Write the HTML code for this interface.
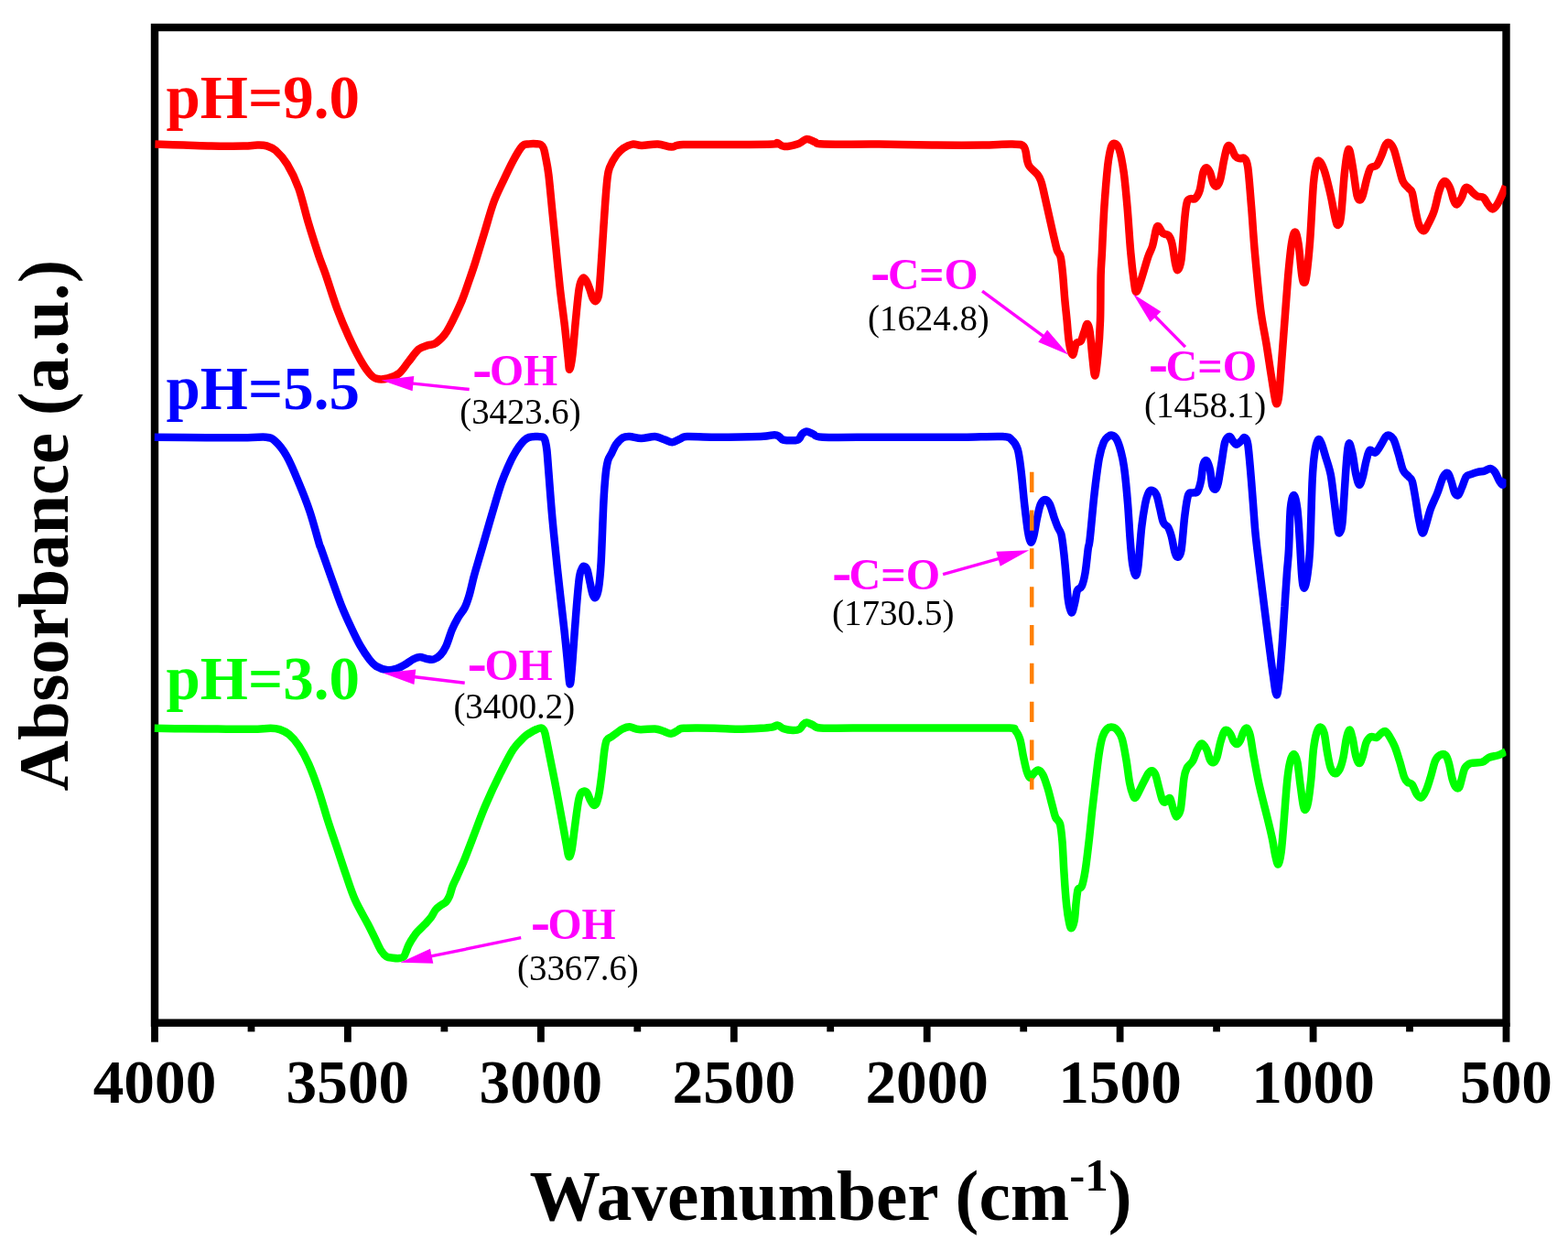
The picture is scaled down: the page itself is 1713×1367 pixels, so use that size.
<!DOCTYPE html>
<html lang="en"><head><meta charset="utf-8"><title>FTIR spectra</title>
<style>
html,body{margin:0;padding:0;background:#fff;}
body{width:1713px;height:1367px;overflow:hidden;}
svg{display:block;font-family:"Liberation Serif",serif;}
.b{font-weight:bold;}
.cv{fill:none;stroke-width:8.5;stroke-linejoin:round;stroke-linecap:butt;}
.m{fill:#ff00ff;font-weight:bold;font-size:48px;}
.hy{font-family:"DejaVu Serif",serif;font-size:42px;}
.n{fill:#000;font-size:40.7px;}
.ar{stroke:#ff00ff;fill:none;}
.ah{fill:#ff00ff;stroke:none;}
</style></head><body>
<svg width="1713" height="1367" viewBox="0 0 1713 1367">
<rect width="1713" height="1367" fill="#fff"/>
<g stroke="#000" stroke-width="8.4" fill="none">
<rect x="169.0" y="30.0" width="1476.5" height="1087.7"/>
<line stroke-width="7.8" x1="169.0" y1="1117.7" x2="169.0" y2="1138.7"/><line stroke-width="7.8" x1="274.5" y1="1117.7" x2="274.5" y2="1127.4"/><line stroke-width="7.8" x1="379.9" y1="1117.7" x2="379.9" y2="1138.7"/><line stroke-width="7.8" x1="485.4" y1="1117.7" x2="485.4" y2="1127.4"/><line stroke-width="7.8" x1="590.9" y1="1117.7" x2="590.9" y2="1138.7"/><line stroke-width="7.8" x1="696.3" y1="1117.7" x2="696.3" y2="1127.4"/><line stroke-width="7.8" x1="801.8" y1="1117.7" x2="801.8" y2="1138.7"/><line stroke-width="7.8" x1="907.2" y1="1117.7" x2="907.2" y2="1127.4"/><line stroke-width="7.8" x1="1012.7" y1="1117.7" x2="1012.7" y2="1138.7"/><line stroke-width="7.8" x1="1118.2" y1="1117.7" x2="1118.2" y2="1127.4"/><line stroke-width="7.8" x1="1223.6" y1="1117.7" x2="1223.6" y2="1138.7"/><line stroke-width="7.8" x1="1329.1" y1="1117.7" x2="1329.1" y2="1127.4"/><line stroke-width="7.8" x1="1434.6" y1="1117.7" x2="1434.6" y2="1138.7"/><line stroke-width="7.8" x1="1540.0" y1="1117.7" x2="1540.0" y2="1127.4"/><line stroke-width="7.8" x1="1645.5" y1="1117.7" x2="1645.5" y2="1138.7"/>
</g>
<clipPath id="cp"><rect x="168" y="30" width="1477.5" height="1088"/></clipPath>
<g id="curves" clip-path="url(#cp)">
<path class="cv" stroke="#00ff00" d="M168.8 795.8C174.0 795.9 188.7 796.2 200.2 796.3C211.7 796.4 225.3 796.5 237.9 796.6C250.5 796.7 265.9 796.9 275.5 796.8C285.1 796.7 290.6 795.8 295.6 795.8C300.6 795.8 302.2 796.0 305.6 797.1C309.0 798.2 312.3 799.6 315.8 802.6C319.3 805.6 323.0 809.7 326.6 815.1C330.2 820.5 333.9 827.2 337.4 835.2C340.9 843.2 344.4 852.8 347.8 862.8C351.2 872.8 354.5 885.0 357.8 895.5C361.1 906.0 364.5 915.6 367.9 925.6C371.2 935.6 374.6 946.1 377.9 955.7C381.2 965.3 383.9 974.3 387.9 983.3C391.9 992.3 398.3 1002.9 401.9 1009.8C405.5 1016.7 406.9 1019.9 409.3 1024.7C411.7 1029.5 414.1 1035.3 416.3 1038.7C418.5 1042.1 420.3 1044.0 422.4 1045.3C424.5 1046.6 426.7 1046.4 429.0 1046.7C431.3 1047.0 434.4 1047.3 436.4 1047.1C438.4 1046.9 439.8 1046.7 441.1 1045.3C442.4 1043.9 443.2 1040.9 444.1 1038.7C445.0 1036.5 445.4 1034.7 446.7 1032.2C448.0 1029.7 450.2 1026.1 451.8 1023.8C453.4 1021.5 453.9 1020.5 456.0 1018.2C458.1 1015.9 461.9 1012.4 464.4 1009.8C466.9 1007.1 469.1 1004.9 471.0 1002.3C472.9 999.6 474.3 996.1 476.1 993.9C477.9 991.7 479.8 990.6 481.7 989.2C483.6 987.8 485.7 987.2 487.3 985.5C488.9 983.8 489.9 981.8 491.1 979.0C492.3 976.2 493.0 972.1 494.3 968.7C495.6 965.3 497.6 961.5 499.0 958.4C500.4 955.3 501.2 953.4 502.7 950.0C504.2 946.6 505.3 944.7 507.9 938.1C510.5 931.5 514.8 920.2 518.5 910.5C522.2 900.8 525.7 891.0 530.4 880.0C535.1 869.0 541.7 854.9 546.8 844.7C551.9 834.5 556.5 825.1 560.8 818.6C565.1 812.1 569.6 808.4 572.5 805.5C575.4 802.6 575.6 802.9 577.9 801.5C580.2 800.1 583.8 798.0 586.1 797.0C588.4 796.0 590.1 795.2 591.6 795.6C593.1 796.0 593.9 797.0 594.9 799.5C595.9 802.0 596.3 805.4 597.4 810.7C598.5 816.0 599.8 822.7 601.5 831.2C603.2 839.7 605.6 851.3 607.6 861.9C609.6 872.5 611.8 884.5 613.7 894.7C615.6 905.0 617.6 916.5 618.9 923.4C620.2 930.3 620.5 935.3 621.5 936.1C622.5 936.9 623.7 933.2 624.7 928.1C625.7 923.0 626.6 913.9 627.7 905.5C628.8 897.1 630.5 884.2 631.5 877.9C632.5 871.6 633.0 870.1 634.0 867.9C635.0 865.7 636.5 864.8 637.7 864.6C639.0 864.4 640.3 865.0 641.5 866.6C642.7 868.2 643.7 871.9 644.8 874.1C645.9 876.3 647.2 879.0 648.3 879.6C649.4 880.2 650.4 880.3 651.5 877.9C652.6 875.5 653.8 871.1 654.8 865.3C655.8 859.4 656.9 850.3 657.8 842.8C658.7 835.3 659.5 825.9 660.3 820.2C661.1 814.6 661.5 811.4 662.8 808.9C664.1 806.4 666.0 806.5 667.9 805.1C669.8 803.7 672.0 802.1 674.1 800.6C676.2 799.1 678.1 797.3 680.4 796.3C682.7 795.2 685.0 794.2 687.9 794.3C690.8 794.4 693.4 796.7 698.0 797.1C702.6 797.5 711.1 796.3 715.5 796.6C719.9 796.9 721.4 797.9 724.3 798.8C727.2 799.7 730.4 801.9 733.1 801.8C735.8 801.7 738.3 799.1 740.6 798.1C742.9 797.1 740.2 796.2 746.9 795.8C753.6 795.4 771.0 795.6 780.8 795.8C790.6 796.0 797.5 796.8 805.9 796.8C814.3 796.8 824.7 796.2 831.0 795.8C837.3 795.4 840.5 795.1 843.6 794.6C846.7 794.1 847.7 792.3 849.8 792.6C851.9 792.9 853.4 795.4 856.1 796.3C858.8 797.2 863.2 798.0 866.1 798.1C869.0 798.2 871.8 797.7 873.7 796.6C875.6 795.5 876.1 793.0 877.4 791.8C878.6 790.6 879.5 789.5 881.2 789.5C882.9 789.5 885.0 791.0 887.5 792.0C890.0 793.0 889.0 795.0 896.3 795.6C903.6 796.2 913.0 795.6 931.4 795.6C949.8 795.6 985.2 795.6 1006.7 795.6C1028.2 795.6 1044.2 795.6 1060.2 795.6C1076.2 795.6 1094.8 795.2 1102.9 795.6C1111.1 796.0 1107.2 796.1 1109.1 798.1C1111.0 800.1 1112.7 802.9 1114.2 807.6C1115.7 812.3 1116.7 820.5 1117.9 826.4C1119.2 832.3 1120.5 838.9 1121.7 842.8C1122.9 846.7 1123.8 849.4 1125.0 849.8C1126.2 850.2 1127.7 846.7 1129.2 845.3C1130.7 843.9 1132.5 841.3 1134.2 841.5C1135.9 841.7 1137.6 843.4 1139.3 846.5C1141.0 849.6 1142.6 854.9 1144.3 860.3C1146.0 865.7 1147.8 873.6 1149.3 879.1C1150.8 884.6 1151.6 889.4 1153.1 893.0C1154.6 896.6 1156.8 895.9 1158.1 900.5C1159.3 905.1 1159.8 911.4 1160.6 920.6C1161.3 929.8 1161.8 944.4 1162.6 955.7C1163.3 967.0 1164.2 979.5 1165.1 988.3C1166.0 997.1 1167.2 1004.1 1168.1 1008.4C1169.0 1012.7 1169.7 1014.6 1170.6 1014.2C1171.5 1013.8 1172.8 1010.6 1173.7 1005.9C1174.6 1001.2 1175.0 991.4 1175.7 985.8C1176.4 980.1 1176.7 974.9 1177.7 972.0C1178.7 969.1 1180.6 971.8 1181.9 968.3C1183.2 964.8 1184.4 958.7 1185.7 950.7C1187.0 942.8 1188.2 931.5 1189.5 920.6C1190.8 909.7 1192.0 896.7 1193.2 885.4C1194.5 874.1 1195.7 863.2 1197.0 852.8C1198.3 842.3 1199.5 830.7 1200.8 822.7C1202.0 814.8 1203.0 809.5 1204.5 805.1C1206.0 800.7 1207.7 798.0 1209.5 796.3C1211.3 794.5 1213.4 794.3 1215.3 794.6C1217.2 794.9 1219.0 795.9 1220.8 798.1C1222.6 800.3 1224.3 802.2 1225.9 807.6C1227.5 813.0 1229.0 822.2 1230.4 830.2C1231.8 838.2 1232.8 848.8 1234.1 855.3C1235.3 861.8 1236.9 866.4 1237.9 869.1C1239.0 871.8 1239.3 872.4 1240.4 871.6C1241.5 870.8 1243.2 867.0 1244.7 864.1C1246.2 861.2 1248.0 857.2 1249.7 854.0C1251.4 850.8 1253.2 846.8 1254.7 844.8C1256.2 842.8 1257.2 841.9 1258.5 842.2C1259.8 842.5 1261.0 843.5 1262.3 846.5C1263.5 849.5 1264.8 855.7 1266.0 860.3C1267.2 864.9 1268.6 871.4 1269.8 874.1C1271.0 876.8 1272.0 876.8 1273.1 876.6C1274.1 876.4 1275.2 873.5 1276.1 872.9C1277.0 872.3 1277.8 871.4 1278.6 872.9C1279.4 874.4 1280.2 878.8 1281.1 881.7C1282.0 884.6 1283.3 888.7 1284.1 890.4C1284.9 892.1 1285.0 893.0 1286.0 891.7C1287.0 890.5 1288.8 889.8 1290.0 882.9C1291.2 876.0 1292.4 857.6 1293.5 850.3C1294.6 843.0 1295.2 842.1 1296.8 839.0C1298.4 835.9 1301.2 834.9 1303.1 831.5C1305.0 828.1 1306.4 822.0 1308.1 818.9C1309.8 815.8 1311.4 812.6 1313.1 812.6C1314.8 812.6 1316.6 816.0 1318.1 818.9C1319.6 821.8 1320.6 827.8 1321.9 830.2C1323.2 832.6 1324.5 833.6 1325.7 833.2C1327.0 832.8 1328.2 831.3 1329.4 827.7C1330.7 824.1 1331.9 816.0 1333.2 811.4C1334.5 806.8 1335.8 802.3 1337.0 800.1C1338.2 797.9 1339.5 797.7 1340.7 798.1C1342.0 798.5 1343.3 800.6 1344.5 802.6C1345.7 804.6 1346.7 808.4 1347.8 810.1C1348.9 811.9 1350.1 813.3 1351.3 813.1C1352.5 812.9 1353.8 811.1 1355.0 808.9C1356.2 806.7 1357.1 802.3 1358.3 800.1C1359.5 797.9 1360.8 795.0 1362.1 795.6C1363.3 796.2 1364.5 798.7 1365.8 803.8C1367.0 808.9 1368.1 818.2 1369.6 826.4C1371.1 834.6 1372.9 844.8 1374.6 852.8C1376.3 860.8 1377.9 867.2 1379.6 874.1C1381.3 881.0 1383.0 887.3 1384.7 894.2C1386.4 901.1 1388.2 908.6 1389.7 915.5C1391.2 922.4 1392.3 930.8 1393.4 935.6C1394.5 940.4 1395.5 945.2 1396.5 944.4C1397.5 943.6 1398.6 939.2 1399.7 930.6C1400.8 922.0 1402.0 905.5 1403.0 893.0C1404.0 880.5 1405.0 865.3 1406.0 855.3C1407.0 845.2 1408.0 837.9 1409.3 832.7C1410.5 827.5 1412.2 823.9 1413.5 823.9C1414.8 823.9 1416.1 827.1 1417.3 832.7C1418.5 838.4 1419.5 850.1 1420.6 857.8C1421.6 865.5 1422.7 874.6 1423.6 879.1C1424.5 883.6 1425.2 885.3 1426.1 884.9C1427.0 884.5 1428.1 882.2 1429.1 876.6C1430.1 871.0 1431.3 861.1 1432.3 851.5C1433.3 841.9 1433.9 827.5 1434.9 818.9C1436.0 810.3 1437.3 804.1 1438.6 800.1C1439.9 796.1 1441.6 794.4 1442.9 794.6C1444.2 794.8 1445.5 796.8 1446.7 801.3C1447.9 805.8 1448.7 815.1 1449.9 821.4C1451.1 827.7 1452.2 835.0 1453.7 839.0C1455.2 843.0 1457.0 845.1 1458.7 845.3C1460.4 845.5 1462.2 843.1 1463.7 840.2C1465.2 837.3 1466.3 833.1 1467.5 827.7C1468.7 822.3 1469.7 812.6 1470.8 807.6C1471.9 802.6 1473.2 797.8 1474.3 797.6C1475.4 797.4 1476.3 801.6 1477.5 806.4C1478.7 811.2 1480.0 821.8 1481.3 826.4C1482.6 831.0 1483.8 834.0 1485.1 834.0C1486.3 834.0 1487.5 830.2 1488.8 826.4C1490.0 822.6 1491.1 814.9 1492.6 811.4C1494.1 807.9 1495.7 806.0 1497.6 805.1C1499.5 804.2 1502.0 806.5 1503.9 805.9C1505.8 805.3 1507.2 802.4 1508.9 801.3C1510.6 800.2 1512.2 798.4 1513.9 799.3C1515.6 800.1 1517.2 803.5 1518.9 806.4C1520.6 809.2 1522.3 812.2 1524.0 816.4C1525.7 820.6 1527.3 826.1 1529.0 831.5C1530.7 836.9 1532.5 845.1 1534.0 849.0C1535.5 852.9 1536.3 853.4 1537.8 854.8C1539.3 856.2 1541.1 855.1 1542.8 857.3C1544.5 859.5 1546.1 865.5 1547.8 867.9C1549.5 870.3 1551.1 872.2 1552.8 871.6C1554.5 871.0 1556.1 867.9 1557.8 864.1C1559.5 860.3 1561.2 854.4 1562.9 849.0C1564.6 843.6 1566.2 835.5 1567.9 831.5C1569.6 827.5 1571.0 826.2 1572.9 825.2C1574.8 824.2 1577.5 823.7 1579.2 825.2C1580.9 826.7 1581.7 829.6 1582.9 834.0C1584.2 838.4 1585.4 847.1 1586.7 851.5C1588.0 855.9 1589.2 858.8 1590.5 860.3C1591.8 861.8 1593.2 861.8 1594.2 860.3C1595.2 858.8 1595.8 855.0 1596.8 851.5C1597.8 848.0 1598.8 841.9 1600.5 839.0C1602.2 836.1 1603.7 835.0 1606.8 834.0C1609.9 833.0 1615.9 833.8 1619.3 832.7C1622.7 831.7 1624.0 829.0 1626.9 827.7C1629.8 826.5 1633.9 826.2 1636.9 825.2C1639.9 824.2 1643.6 822.0 1644.9 821.4"/>
<path class="cv" stroke="#0000ff" d="M168.8 477.7C178.2 477.8 208.4 478.1 225.3 478.2C242.2 478.3 259.6 478.3 270.5 478.2C281.4 478.1 285.6 477.1 290.6 477.7C295.6 478.3 296.8 478.6 300.6 482.0C304.4 485.4 309.0 491.0 313.2 498.3C317.4 505.6 321.5 515.9 325.7 525.9C329.9 535.9 334.5 547.2 338.3 558.5C342.1 569.8 346.5 586.8 348.6 593.7C350.7 600.6 348.8 593.9 350.9 600.0C353.0 606.1 357.9 620.1 361.5 630.1C365.1 640.1 368.8 651.0 372.4 660.2C376.0 669.4 379.9 677.8 383.4 685.3C386.9 692.8 390.1 699.5 393.5 705.4C396.9 711.3 400.6 716.7 403.5 720.5C406.4 724.3 407.6 726.0 411.0 728.0C414.4 730.0 419.8 731.9 423.6 732.3C427.4 732.7 430.2 731.6 433.6 730.5C437.0 729.4 440.8 727.2 443.7 725.5C446.6 723.8 448.7 721.8 451.2 720.5C453.7 719.2 456.2 718.1 458.7 718.0C461.2 717.9 463.8 719.6 466.3 720.0C468.8 720.4 471.3 721.2 473.8 720.5C476.3 719.8 479.0 718.0 481.3 715.5C483.6 713.0 485.5 710.0 487.6 705.4C489.7 700.8 491.8 692.9 493.9 687.9C496.0 682.9 497.9 679.3 500.2 675.3C502.5 671.3 505.6 668.2 507.7 664.0C509.8 659.8 511.0 655.9 512.7 650.2C514.4 644.6 516.0 636.4 517.7 630.1C519.4 623.8 521.1 618.2 522.7 612.6C524.3 607.0 524.3 607.3 527.5 596.2C530.7 585.1 538.6 557.6 542.1 546.0C545.6 534.4 546.2 532.3 548.3 526.5C550.4 520.7 552.5 515.8 554.6 511.0C556.7 506.2 558.7 501.8 560.8 498.0C562.9 494.2 565.0 490.8 567.0 488.0C569.0 485.2 570.7 483.0 572.5 481.3C574.3 479.6 575.9 478.6 578.0 477.9C580.1 477.2 582.9 477.1 585.1 477.0C587.3 476.9 589.6 476.9 591.2 477.3C592.8 477.8 593.9 477.3 594.9 479.7C595.9 482.1 596.6 485.5 597.4 491.6C598.1 497.7 598.4 503.6 599.4 516.2C600.4 528.8 601.9 549.9 603.5 567.4C605.1 584.9 606.8 601.2 608.9 621.3C611.0 641.4 614.5 670.5 616.4 687.9C618.3 705.3 619.2 715.5 620.2 725.5C621.2 735.5 621.9 747.6 622.7 747.6C623.5 747.6 624.2 737.5 625.2 725.5C626.2 713.5 627.6 690.8 628.9 675.3C630.1 659.8 631.6 641.6 632.7 632.6C633.8 623.6 634.8 623.6 635.7 621.3C636.6 619.0 637.2 618.6 638.2 618.8C639.2 619.0 640.4 619.5 641.5 622.6C642.6 625.8 643.8 633.1 644.8 637.7C645.8 642.3 646.8 647.7 647.8 650.2C648.8 652.7 649.8 654.0 650.8 652.7C651.8 651.5 653.0 649.0 654.0 642.7C655.0 636.4 655.7 630.4 656.6 615.1C657.5 599.8 658.5 567.1 659.3 551.0C660.1 534.9 660.8 526.4 661.6 518.4C662.4 510.4 663.1 507.1 664.1 503.3C665.1 499.5 666.4 498.7 667.9 495.8C669.4 492.9 670.8 488.6 672.9 485.7C675.0 482.8 677.9 479.6 680.4 478.2C682.9 476.8 684.5 476.9 687.9 477.0C691.2 477.1 695.9 479.0 700.5 479.0C705.1 479.0 711.3 476.8 715.5 477.0C719.7 477.2 722.5 479.2 725.6 480.2C728.8 481.2 731.5 483.3 734.4 483.2C737.3 483.1 740.5 480.5 743.2 479.5C745.9 478.5 744.4 477.3 750.7 477.0C757.0 476.7 767.4 477.7 780.8 477.7C794.2 477.7 820.1 477.4 831.0 477.0C841.9 476.6 842.8 475.2 846.1 475.2C849.5 475.2 849.4 476.1 851.1 477.0C852.8 477.9 852.8 480.1 856.1 480.7C859.5 481.3 867.9 481.8 871.2 480.7C874.6 479.6 874.5 475.9 876.2 474.4C877.9 472.8 879.1 471.4 881.2 471.4C883.3 471.4 885.8 473.3 888.7 474.4C891.6 475.4 887.5 477.1 898.8 477.7C910.1 478.2 938.5 477.7 956.5 477.7C974.5 477.7 990.7 477.7 1006.7 477.7C1022.7 477.7 1037.9 477.8 1052.7 477.7C1067.5 477.6 1086.5 476.5 1095.3 477.0C1104.1 477.5 1102.7 478.4 1105.4 480.7C1108.1 483.0 1110.0 485.4 1111.7 490.8C1113.4 496.2 1114.2 503.4 1115.4 513.4C1116.7 523.4 1117.9 539.7 1119.2 551.0C1120.5 562.3 1121.9 574.2 1123.0 581.1C1124.1 588.0 1125.0 591.6 1126.0 592.4C1127.0 593.2 1128.0 590.5 1129.2 586.1C1130.4 581.7 1131.7 572.0 1133.0 566.1C1134.3 560.2 1135.3 554.4 1136.8 551.0C1138.3 547.6 1140.1 546.0 1141.8 546.0C1143.5 546.0 1145.1 547.6 1146.8 551.0C1148.5 554.4 1150.3 561.9 1151.8 566.1C1153.3 570.3 1154.3 573.2 1155.6 576.1C1156.8 579.0 1158.2 579.4 1159.3 583.6C1160.3 587.8 1161.1 594.1 1161.9 601.2C1162.8 608.3 1163.6 617.3 1164.4 626.3C1165.2 635.3 1165.9 648.0 1166.9 655.2C1167.9 662.4 1169.3 669.1 1170.6 669.5C1171.8 669.9 1173.4 661.8 1174.4 657.7C1175.5 653.7 1175.7 648.1 1176.9 645.2C1178.2 642.3 1180.4 643.6 1181.9 640.2C1183.4 636.9 1184.6 631.8 1185.7 625.1C1186.8 618.4 1187.9 606.1 1188.7 600.0C1189.5 593.9 1189.5 599.0 1190.7 588.7C1191.9 578.5 1194.0 553.1 1195.7 538.5C1197.4 523.9 1199.1 510.0 1200.8 500.8C1202.5 491.6 1204.1 487.2 1205.8 483.2C1207.5 479.2 1209.3 478.2 1210.8 477.0C1212.3 475.8 1213.1 475.3 1214.6 475.7C1216.1 476.1 1217.9 476.6 1219.6 479.5C1221.3 482.4 1223.1 487.7 1224.6 493.3C1226.1 498.9 1227.2 503.8 1228.4 513.4C1229.7 523.0 1231.1 538.5 1232.1 551.0C1233.1 563.5 1233.8 577.8 1234.6 588.7C1235.4 599.6 1236.2 609.6 1237.2 616.3C1238.2 623.0 1239.4 628.4 1240.4 628.8C1241.4 629.2 1242.3 627.6 1243.4 618.8C1244.5 610.0 1245.9 587.4 1247.2 576.1C1248.5 564.8 1249.8 557.3 1251.0 551.0C1252.2 544.7 1253.5 541.0 1254.7 538.5C1256.0 536.0 1257.0 535.5 1258.5 535.9C1260.0 536.3 1262.0 537.6 1263.5 541.0C1265.0 544.4 1266.0 551.0 1267.3 556.0C1268.5 561.0 1269.5 567.8 1271.0 571.1C1272.5 574.5 1274.6 573.6 1276.1 576.1C1277.6 578.6 1278.5 581.5 1279.8 586.1C1281.0 590.7 1282.4 599.9 1283.6 603.7C1284.8 607.5 1285.6 609.1 1286.8 608.7C1288.0 608.3 1289.2 608.7 1290.5 601.2C1291.8 593.7 1293.0 573.6 1294.3 563.6C1295.6 553.6 1296.6 545.2 1298.1 541.0C1299.6 536.8 1301.4 539.1 1303.1 538.5C1304.8 537.9 1306.6 539.3 1308.1 537.2C1309.6 535.1 1310.9 530.7 1311.9 525.9C1313.0 521.1 1313.4 512.1 1314.4 508.3C1315.4 504.5 1316.8 502.5 1318.1 503.3C1319.3 504.1 1320.9 508.8 1321.9 513.4C1323.0 518.0 1323.4 527.3 1324.4 530.9C1325.4 534.5 1326.7 535.1 1327.7 534.7C1328.8 534.3 1329.6 533.2 1330.7 528.4C1331.8 523.6 1333.2 513.3 1334.5 505.8C1335.8 498.3 1336.8 488.0 1338.2 483.2C1339.7 478.4 1341.7 477.2 1343.2 477.0C1344.7 476.8 1345.7 480.6 1347.0 482.0C1348.3 483.4 1349.3 485.7 1350.8 485.7C1352.3 485.7 1354.3 483.2 1355.8 482.0C1357.3 480.8 1358.3 477.6 1359.6 478.2C1360.8 478.8 1362.0 477.8 1363.3 485.7C1364.5 493.6 1365.8 510.8 1367.1 525.9C1368.4 541.0 1369.9 563.8 1370.9 576.1C1372.0 588.5 1372.0 587.6 1373.4 600.0C1374.9 612.4 1377.5 633.5 1379.6 650.2C1381.7 666.9 1384.0 685.8 1385.9 700.4C1387.8 715.0 1389.4 728.3 1390.9 738.1C1392.4 747.9 1393.5 759.4 1394.7 759.4C1395.9 759.4 1397.0 747.9 1398.0 738.1C1399.0 728.3 1400.1 713.0 1401.0 700.4C1401.9 687.8 1402.7 675.3 1403.5 662.8C1404.3 650.2 1405.2 635.6 1406.0 625.1C1406.8 614.6 1407.4 611.5 1408.0 600.0C1408.6 588.5 1408.9 565.8 1409.8 556.0C1410.7 546.2 1412.2 541.0 1413.5 541.0C1414.8 541.0 1416.2 548.0 1417.3 556.0C1418.3 564.0 1419.0 576.4 1419.8 588.7C1420.6 601.1 1421.5 621.1 1422.3 630.1C1423.1 639.1 1423.8 642.7 1424.8 642.7C1425.8 642.7 1427.0 637.2 1428.1 630.1C1429.1 623.0 1430.2 617.4 1431.1 600.0C1432.0 582.6 1432.8 543.3 1433.6 525.9C1434.4 508.5 1435.0 503.3 1436.1 495.8C1437.1 488.3 1438.7 482.6 1439.9 480.7C1441.2 478.8 1442.1 481.1 1443.6 484.5C1445.1 487.9 1447.0 495.2 1448.7 500.8C1450.4 506.4 1452.2 510.9 1453.7 518.4C1455.2 525.9 1456.2 536.4 1457.4 546.0C1458.7 555.6 1460.2 570.0 1461.2 576.1C1462.2 582.2 1462.4 582.8 1463.2 582.4C1464.0 582.0 1465.3 580.9 1466.2 573.6C1467.1 566.3 1467.9 550.6 1468.7 538.5C1469.5 526.4 1470.5 509.8 1471.3 500.8C1472.1 491.8 1472.8 485.3 1473.8 484.5C1474.8 483.7 1476.2 490.2 1477.5 495.8C1478.8 501.4 1480.0 512.8 1481.3 518.4C1482.6 524.0 1483.8 529.3 1485.1 529.7C1486.3 530.1 1487.5 525.3 1488.8 520.9C1490.0 516.5 1491.3 508.1 1492.6 503.3C1493.9 498.5 1494.7 493.5 1496.4 492.0C1498.1 490.5 1500.5 495.6 1502.6 494.5C1504.7 493.4 1507.0 488.6 1508.9 485.7C1510.8 482.8 1512.4 478.7 1513.9 477.0C1515.4 475.3 1516.2 475.1 1517.7 475.7C1519.2 476.3 1521.0 477.3 1522.7 480.7C1524.4 484.1 1526.0 490.4 1527.7 495.8C1529.4 501.2 1530.8 509.2 1532.7 513.4C1534.6 517.6 1537.3 518.8 1539.0 520.9C1540.7 523.0 1541.5 521.7 1542.8 525.9C1544.1 530.1 1545.3 538.9 1546.6 546.0C1547.8 553.1 1549.0 562.5 1550.3 568.6C1551.5 574.7 1552.8 581.6 1554.1 582.4C1555.3 583.2 1556.3 578.0 1557.8 573.6C1559.3 569.2 1560.8 561.9 1562.9 556.0C1565.0 550.1 1568.1 544.4 1570.4 538.5C1572.7 532.6 1574.8 524.5 1576.7 520.9C1578.6 517.3 1580.2 516.3 1581.7 517.1C1583.2 517.9 1584.2 522.3 1585.5 525.9C1586.8 529.5 1588.0 536.0 1589.2 538.5C1590.5 541.0 1591.7 541.9 1593.0 541.0C1594.3 540.1 1595.3 536.8 1596.8 533.4C1598.3 530.0 1600.1 523.4 1601.8 520.9C1603.5 518.4 1604.7 519.2 1606.8 518.4C1608.9 517.6 1611.8 516.5 1614.3 515.9C1616.8 515.3 1619.6 515.2 1621.9 514.6C1624.2 514.0 1626.2 511.9 1628.1 512.1C1630.0 512.3 1631.5 513.6 1633.2 515.9C1634.9 518.2 1636.8 523.6 1638.2 525.9C1639.7 528.2 1640.8 530.1 1641.9 529.7C1643.0 529.3 1644.4 524.5 1644.9 523.4"/>
<path class="cv" stroke="#ff0000" d="M169.4 157.6C174.6 157.8 190.6 158.3 200.8 158.6C211.1 158.9 220.0 159.4 230.9 159.6C241.8 159.8 257.7 159.8 266.1 159.6C274.5 159.4 276.9 158.6 281.1 158.6C285.3 158.6 287.9 158.4 291.2 159.4C294.5 160.4 297.4 161.1 301.2 164.4C305.0 167.8 309.6 172.6 313.8 179.5C318.0 186.4 322.5 195.1 326.3 205.8C330.1 216.5 333.3 231.4 336.9 243.5C340.5 255.6 344.9 269.2 348.0 278.6C351.1 288.0 352.4 290.1 355.8 300.0C359.2 309.9 364.2 326.4 368.4 337.7C372.6 349.0 376.7 358.6 380.9 367.8C385.1 377.0 389.7 386.2 393.5 392.9C397.3 399.6 400.6 404.4 403.5 407.9C406.4 411.4 407.6 412.8 411.0 413.7C414.4 414.6 419.4 414.5 423.6 413.5C427.8 412.5 432.3 410.9 436.1 407.9C439.9 404.9 442.6 399.8 446.2 395.4C449.8 391.0 453.9 384.6 457.5 381.6C461.1 378.6 464.4 378.4 467.5 377.3C470.6 376.2 472.9 377.2 476.3 374.8C479.7 372.4 483.4 369.8 487.8 362.8C492.2 355.8 498.9 341.6 502.9 332.6C506.9 323.6 509.1 316.4 511.8 308.7C514.5 300.9 516.5 295.3 519.4 286.1C522.3 276.9 526.1 264.4 529.4 253.5C532.7 242.6 536.0 230.1 539.4 220.9C542.8 211.7 546.0 205.8 549.5 198.3C553.0 190.8 557.0 182.2 560.5 175.7C564.0 169.2 567.8 162.6 570.7 159.5C573.6 156.4 575.3 157.8 577.9 157.4C580.5 157.0 584.0 157.1 586.1 157.2C588.2 157.3 589.5 157.2 590.8 158.0C592.1 158.8 593.0 159.6 593.9 162.1C594.8 164.6 595.4 168.0 596.3 172.8C597.2 177.7 598.2 181.3 599.4 191.2C600.6 201.1 602.1 218.5 603.5 232.2C604.9 245.8 606.2 259.5 607.6 273.1C609.0 286.8 610.2 300.4 611.7 314.1C613.2 327.8 615.3 342.5 616.8 355.1C618.3 367.7 619.6 381.8 620.5 389.9C621.4 398.0 621.5 404.1 622.3 403.8C623.1 403.5 624.3 396.8 625.4 387.9C626.5 379.0 627.7 362.3 628.9 350.2C630.1 338.1 631.4 322.8 632.7 315.1C634.0 307.5 635.2 305.8 636.5 304.3C637.8 302.8 639.0 304.5 640.2 306.3C641.5 308.1 642.7 311.8 644.0 315.1C645.3 318.5 646.6 324.1 647.8 326.4C649.0 328.7 650.0 329.5 651.0 328.9C652.0 328.3 653.2 327.2 654.0 322.6C654.8 318.0 655.2 311.0 655.9 301.2C656.6 291.4 657.6 276.2 658.4 263.6C659.2 251.1 660.1 237.2 660.9 225.9C661.7 214.6 662.6 202.9 663.4 195.8C664.2 188.7 664.2 187.6 665.9 183.2C667.6 178.8 671.0 172.9 673.5 169.4C676.0 165.9 678.1 163.9 681.0 161.9C683.9 159.9 687.6 158.1 691.0 157.6C694.4 157.1 696.5 158.9 701.1 158.9C705.7 158.9 713.3 157.3 718.7 157.6C724.1 157.9 729.1 160.5 733.7 160.6C738.3 160.7 735.0 158.5 746.3 158.1C757.6 157.7 785.2 158.2 801.5 158.1C817.8 158.0 836.2 157.9 844.2 157.6C852.2 157.3 847.1 155.7 849.2 156.1C851.3 156.5 852.8 160.0 856.7 160.1C860.6 160.2 868.5 158.3 872.6 156.9C876.7 155.5 878.4 152.2 881.3 151.9C884.2 151.6 887.0 154.2 890.1 155.1C893.2 156.0 888.5 157.2 900.2 157.6C911.9 158.0 939.9 157.4 960.4 157.6C980.9 157.8 1004.4 158.4 1023.2 158.6C1042.0 158.8 1059.6 158.8 1073.4 158.6C1087.2 158.4 1098.5 157.3 1106.0 157.6C1113.5 157.8 1115.8 157.1 1118.5 160.1C1121.2 163.1 1121.2 172.0 1122.3 175.7C1123.3 179.3 1122.9 179.5 1124.8 182.0C1126.7 184.5 1131.5 188.1 1133.6 190.8C1135.7 193.5 1136.2 194.5 1137.4 198.3C1138.7 202.1 1139.6 207.1 1141.1 213.4C1142.5 219.7 1144.4 228.4 1146.1 235.9C1147.8 243.4 1149.7 252.2 1151.2 258.5C1152.7 264.8 1153.7 269.8 1154.9 273.6C1156.2 277.4 1157.7 276.5 1158.7 281.1C1159.8 285.7 1160.5 293.9 1161.2 301.2C1161.9 308.5 1162.4 316.9 1163.1 325.1C1163.8 333.3 1164.8 341.8 1165.6 350.2C1166.4 358.6 1167.0 369.0 1168.1 375.3C1169.1 381.6 1170.6 387.9 1171.9 387.9C1173.2 387.9 1174.2 377.8 1175.7 375.3C1177.2 372.8 1179.2 374.9 1180.7 372.8C1182.2 370.7 1183.2 365.9 1184.4 362.8C1185.6 359.7 1186.7 354.0 1187.7 354.0C1188.8 354.0 1189.8 357.2 1190.7 362.8C1191.6 368.4 1192.3 380.0 1193.2 387.9C1194.1 395.8 1195.2 410.4 1196.2 410.4C1197.2 410.4 1198.5 397.9 1199.5 387.9C1200.5 377.9 1201.5 364.6 1202.0 350.2C1202.5 335.8 1202.3 313.5 1202.6 301.2C1202.9 288.9 1203.3 288.7 1203.9 276.1C1204.5 263.6 1205.4 241.8 1206.4 225.9C1207.5 210.0 1209.0 191.6 1210.2 180.7C1211.5 169.8 1212.7 164.6 1213.9 160.6C1215.2 156.6 1216.2 156.5 1217.7 156.9C1219.2 157.3 1221.0 158.0 1222.7 163.2C1224.4 168.4 1226.2 177.9 1227.7 188.3C1229.2 198.8 1230.2 211.3 1231.5 225.9C1232.8 240.5 1234.0 262.3 1235.3 276.1C1236.5 289.9 1238.0 301.6 1239.0 308.7C1240.0 315.8 1240.2 319.2 1241.5 318.8C1242.8 318.4 1244.4 312.5 1246.5 306.2C1248.6 299.9 1252.0 287.4 1254.1 281.1C1256.2 274.8 1257.6 273.6 1259.1 268.6C1260.6 263.6 1261.9 254.6 1262.9 251.0C1264.0 247.4 1264.2 246.6 1265.4 247.2C1266.7 247.8 1268.5 253.1 1270.4 254.8C1272.3 256.5 1275.0 255.4 1276.7 257.3C1278.4 259.2 1279.2 260.9 1280.4 266.1C1281.7 271.3 1283.1 283.9 1284.2 288.7C1285.3 293.5 1285.8 295.8 1286.8 294.9C1287.8 294.0 1289.2 293.0 1290.5 283.6C1291.8 274.2 1293.2 248.9 1294.3 238.5C1295.3 228.1 1295.8 224.5 1296.8 220.9C1297.8 217.3 1299.1 217.7 1300.6 217.1C1302.1 216.5 1303.9 218.6 1305.6 217.1C1307.3 215.6 1309.1 213.1 1310.6 208.3C1312.1 203.5 1313.2 192.5 1314.4 188.3C1315.7 184.1 1316.8 183.2 1318.1 183.2C1319.3 183.2 1320.6 185.4 1321.9 188.3C1323.2 191.2 1324.5 198.3 1325.7 200.8C1327.0 203.3 1328.2 204.1 1329.4 203.3C1330.7 202.5 1331.9 200.4 1333.2 195.8C1334.5 191.2 1335.8 181.6 1337.0 175.7C1338.2 169.8 1339.5 163.1 1340.7 160.6C1342.0 158.1 1343.0 158.9 1344.5 160.6C1346.0 162.3 1347.8 168.6 1349.5 170.7C1351.2 172.8 1352.8 172.8 1354.5 173.2C1356.2 173.6 1358.1 171.5 1359.6 173.2C1361.1 174.9 1362.0 174.4 1363.3 183.2C1364.5 192.0 1365.8 210.4 1367.1 225.9C1368.4 241.4 1369.2 257.5 1370.9 276.1C1372.6 294.7 1375.0 321.2 1377.1 337.7C1379.2 354.2 1381.5 363.6 1383.4 375.3C1385.3 387.0 1386.9 398.5 1388.4 407.9C1389.9 417.3 1391.2 426.2 1392.2 431.8C1393.2 437.4 1393.9 441.3 1394.7 441.3C1395.5 441.3 1396.4 438.6 1397.2 431.8C1398.0 425.0 1398.7 414.0 1399.7 400.4C1400.8 386.8 1402.2 366.7 1403.5 350.2C1404.8 333.7 1406.0 315.2 1407.2 301.2C1408.5 287.2 1409.7 274.1 1411.0 266.1C1412.3 258.2 1413.5 253.5 1414.8 253.5C1416.0 253.5 1417.2 258.2 1418.5 266.1C1419.8 274.1 1421.2 294.1 1422.3 301.2C1423.3 308.3 1424.0 308.7 1424.8 308.7C1425.6 308.7 1426.2 308.7 1427.3 301.2C1428.3 293.7 1429.8 280.3 1431.1 263.6C1432.4 246.9 1433.7 215.0 1434.9 200.8C1436.2 186.6 1437.3 182.2 1438.6 178.2C1439.8 174.2 1440.9 175.3 1442.4 177.0C1443.9 178.7 1445.5 182.2 1447.4 188.3C1449.3 194.4 1451.8 205.0 1453.7 213.4C1455.6 221.8 1457.4 233.1 1458.7 238.5C1460.0 243.9 1460.7 246.4 1461.7 246.0C1462.8 245.6 1463.8 245.1 1465.0 235.9C1466.2 226.7 1467.5 202.3 1468.7 190.8C1469.9 179.3 1471.0 171.2 1472.0 166.9C1473.0 162.6 1473.5 161.8 1474.5 164.9C1475.5 168.0 1477.0 177.6 1478.3 185.7C1479.6 193.8 1481.2 207.9 1482.5 213.4C1483.8 218.9 1484.8 218.4 1485.8 218.4C1486.8 218.4 1487.5 217.6 1488.8 213.4C1490.1 209.2 1492.3 198.3 1493.8 193.3C1495.3 188.3 1495.9 185.3 1497.6 183.2C1499.3 181.1 1502.0 182.8 1503.9 180.7C1505.8 178.6 1507.2 174.5 1508.9 170.7C1510.6 166.9 1512.4 160.5 1513.9 158.1C1515.4 155.7 1516.2 155.2 1517.7 156.1C1519.2 156.9 1521.0 159.1 1522.7 163.2C1524.4 167.3 1526.0 174.8 1527.7 180.7C1529.4 186.5 1530.8 194.1 1532.7 198.3C1534.6 202.5 1537.3 203.7 1539.0 205.8C1540.7 207.9 1541.5 206.6 1542.8 210.8C1544.1 215.0 1545.3 225.0 1546.6 230.9C1547.8 236.8 1548.8 242.4 1550.3 246.0C1551.8 249.6 1553.8 252.1 1555.3 252.3C1556.8 252.5 1557.2 250.8 1559.1 247.2C1561.0 243.6 1564.5 237.0 1566.6 230.9C1568.7 224.8 1570.2 215.8 1571.7 210.8C1573.2 205.8 1574.2 202.9 1575.4 200.8C1576.7 198.7 1577.7 197.5 1579.2 198.3C1580.7 199.1 1582.7 202.5 1584.2 205.8C1585.7 209.2 1586.8 215.5 1588.0 218.4C1589.2 221.3 1590.2 223.8 1591.7 223.4C1593.2 223.0 1595.3 218.8 1596.8 215.9C1598.3 213.0 1599.2 207.5 1600.5 205.8C1601.8 204.1 1602.8 205.0 1604.3 205.8C1605.8 206.6 1607.6 209.3 1609.3 210.8C1611.0 212.3 1612.4 213.8 1614.3 214.6C1616.2 215.4 1618.7 214.4 1620.6 215.9C1622.5 217.4 1623.9 221.3 1625.6 223.4C1627.3 225.5 1628.9 228.4 1630.6 228.4C1632.3 228.4 1633.8 226.3 1635.7 223.4C1637.6 220.5 1640.4 214.2 1641.9 210.8C1643.4 207.5 1644.4 204.6 1644.9 203.3"/>
</g>
<g id="annot"><line x1="1127.2" y1="515.7" x2="1127.2" y2="862.7" stroke="#ff8000" stroke-width="4.5" stroke-dasharray="22.3 19.53"/><line class="ar" x1="512.7" y1="425.5" x2="449.4" y2="418.9" stroke-width="3.4"/><polygon class="ah" points="416.6,415.5 452.3,410.9 450.6,427.3"/><line class="ar" x1="507.7" y1="746.3" x2="451.4" y2="739.5" stroke-width="3.4"/><polygon class="ah" points="418.6,735.5 454.3,731.5 452.4,747.9"/><line class="ar" x1="569.2" y1="1024.7" x2="469.7" y2="1045.2" stroke-width="3.4"/><polygon class="ah" points="437.4,1051.8 470.0,1036.7 473.3,1052.8"/><line class="ar" x1="1073.1" y1="318.2" x2="1140.8" y2="368.2" stroke-width="3.4"/><polygon class="ah" points="1167.4,387.8 1134.3,373.7 1144.1,360.4"/><line class="ar" x1="1294.9" y1="379.1" x2="1261.1" y2="344.8" stroke-width="3.4"/><polygon class="ah" points="1237.9,321.3 1268.3,340.4 1256.6,352.0"/><line class="ar" x1="1030.1" y1="627.6" x2="1092.4" y2="610.2" stroke-width="3.4"/><polygon class="ah" points="1124.2,601.3 1092.7,618.7 1088.3,602.8"/><text class="m hy" x="515.6" y="420.5" textLength="22.4" lengthAdjust="spacingAndGlyphs">-</text><text class="m" x="534.9" y="421.4" textLength="74.2" lengthAdjust="spacingAndGlyphs">OH</text><text class="m hy" x="510.1" y="742.1" textLength="22.4" lengthAdjust="spacingAndGlyphs">-</text><text class="m" x="529.4" y="743.0" textLength="74.2" lengthAdjust="spacingAndGlyphs">OH</text><text class="m hy" x="579.2" y="1025.3" textLength="22.4" lengthAdjust="spacingAndGlyphs">-</text><text class="m" x="598.5" y="1026.2" textLength="74.2" lengthAdjust="spacingAndGlyphs">OH</text><text class="m hy" x="950.6" y="314.9" textLength="22.4" lengthAdjust="spacingAndGlyphs">-</text><text class="m" x="969.9" y="315.8" textLength="98.6" lengthAdjust="spacingAndGlyphs">C=O</text><text class="m hy" x="1254.3" y="414.6" textLength="22.4" lengthAdjust="spacingAndGlyphs">-</text><text class="m" x="1273.5" y="415.5" textLength="99.6" lengthAdjust="spacingAndGlyphs">C=O</text><text class="m hy" x="908.4" y="643.0" textLength="22.4" lengthAdjust="spacingAndGlyphs">-</text><text class="m" x="927.6" y="643.9" textLength="99.4" lengthAdjust="spacingAndGlyphs">C=O</text><text class="n" x="502.3" y="462.9" textLength="132.3" lengthAdjust="spacingAndGlyphs">(3423.6)</text><text class="n" x="495.4" y="784.5" textLength="132.8" lengthAdjust="spacingAndGlyphs">(3400.2)</text><text class="n" x="565.1" y="1071.2" textLength="132.7" lengthAdjust="spacingAndGlyphs">(3367.6)</text><text class="n" x="948.1" y="360.6" textLength="132.7" lengthAdjust="spacingAndGlyphs">(1624.8)</text><text class="n" x="1250.0" y="455.6" textLength="133.3" lengthAdjust="spacingAndGlyphs">(1458.1)</text><text class="n" x="909.1" y="682.8" textLength="133.3" lengthAdjust="spacingAndGlyphs">(1730.5)</text></g>
<g class="b" font-size="67.3px" fill="#000"><text x="169.0" y="1204.5" text-anchor="middle">4000</text><text x="379.9" y="1204.5" text-anchor="middle">3500</text><text x="590.9" y="1204.5" text-anchor="middle">3000</text><text x="801.8" y="1204.5" text-anchor="middle">2500</text><text x="1012.7" y="1204.5" text-anchor="middle">2000</text><text x="1223.6" y="1204.5" text-anchor="middle">1500</text><text x="1434.6" y="1204.5" text-anchor="middle">1000</text><text x="1645.5" y="1204.5" text-anchor="middle">500</text></g>
<text class="b" font-size="77.4px" x="907.5" y="1333.2" text-anchor="middle">Wavenumber (cm<tspan font-size="51px" dy="-32.6">-1</tspan><tspan dy="32.6">)</tspan></text>
<text class="b" font-size="77.6px" x="-290.3" y="0" textLength="580.6" lengthAdjust="spacingAndGlyphs" transform="translate(74 574.1) rotate(-90)">Absorbance (a.u.)</text>
<text class="b" font-size="67px" fill="#ff0000" x="181.6" y="128.8">pH=9.0</text>
<text class="b" font-size="67px" fill="#0000ff" x="181.6" y="446.8">pH=5.5</text>
<text class="b" font-size="67px" fill="#00ff00" x="181.6" y="763.5">pH=3.0</text>
</svg>
</body></html>
